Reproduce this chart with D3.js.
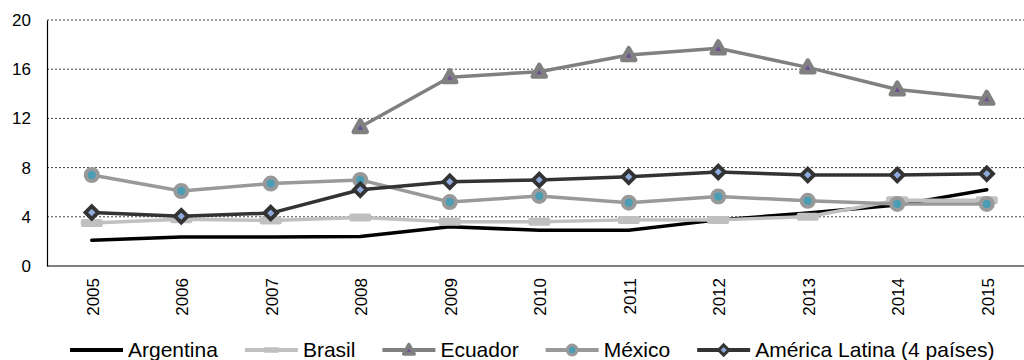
<!DOCTYPE html>
<html>
<head>
<meta charset="utf-8">
<script src="https://cdn.jsdelivr.net/npm/d3@7"></script>
<style>
  html, body { margin: 0; padding: 0; background: #fff; }
  svg { display: block; font-family: "Liberation Sans", Arial, sans-serif; }
</style>
</head>
<body>
<svg id="chart" width="1024" height="360"></svg>
<script>
// Years on the horizontal axis
const years = ["2005", "2006", "2007", "2008", "2009", "2010", "2011", "2012", "2013", "2014", "2015"];
const yTicks = [0, 4, 8, 12, 16, 20];

// Series values (null = no data)
const argentina = [2.1, 2.35, 2.35, 2.4, 3.2, 2.9, 2.9, 3.75, 4.3, 4.95, 6.2];
const brasil = [3.5, 3.8, 3.7, 3.95, 3.6, 3.6, 3.75, 3.75, 4.0, 5.35, 5.35];
const ecuador = [null, null, null, 11.3, 15.35, 15.8, 17.15, 17.7, 16.15, 14.35, 13.6];
const mexico = [7.4, 6.1, 6.7, 7.0, 5.2, 5.7, 5.15, 5.65, 5.3, 5.05, 5.05];
const americaLatina = [4.35, 4.05, 4.3, 6.2, 6.85, 7.0, 7.25, 7.65, 7.4, 7.4, 7.5];

const seriesNames = ["Argentina", "Brasil", "Ecuador", "México", "América Latina (4 países)"];

const series = [
  { name: seriesNames[0], values: argentina, line: "#000000", marker: null },
  { name: seriesNames[1], values: brasil, line: "#c0c0c0", marker: "dash" },
  { name: seriesNames[2], values: ecuador, line: "#808080", marker: "triangle" },
  { name: seriesNames[3], values: mexico, line: "#999999", marker: "circle" },
  { name: seriesNames[4], values: americaLatina, line: "#333333", marker: "diamond" }
];

const svg = d3.select("#chart");
const plotLeft = 47, plotRight = 1024, plotTop = 20, plotBottom = 266;
const step = 89.5;

const x = d3.scalePoint().domain(years).range([plotLeft + step / 2, plotLeft + step / 2 + step * 10]);
const y = d3.scaleLinear().domain([0, 20]).range([plotBottom, plotTop]);

// Dotted horizontal gridlines
svg.append("g")
  .selectAll("line")
  .data(yTicks.filter(d => d > 0))
  .join("line")
  .attr("x1", plotLeft).attr("x2", plotRight)
  .attr("y1", d => y(d)).attr("y2", d => y(d))
  .attr("stroke", "#404040")
  .attr("stroke-width", 1)
  .attr("stroke-dasharray", "2,2");

// Y axis
const yAxis = svg.append("g")
  .attr("transform", `translate(${plotLeft},0)`)
  .call(d3.axisLeft(y).tickValues(yTicks).tickSize(0).tickPadding(16));
yAxis.select(".domain").attr("stroke", "#000").attr("stroke-width", 1.2);
yAxis.selectAll("text").attr("font-size", 17).attr("fill", "#000")
  .attr("font-family", "'Liberation Sans', Arial, sans-serif");

// X axis baseline
svg.append("line")
  .attr("x1", plotLeft).attr("x2", plotRight)
  .attr("y1", y(0)).attr("y2", y(0))
  .attr("stroke", "#000").attr("stroke-width", 1.2);

// Rotated year labels
svg.append("g")
  .selectAll("text")
  .data(years)
  .join("text")
  .attr("transform", d => `translate(${x(d) + 1},${plotBottom + 12}) rotate(-90)`)
  .attr("text-anchor", "end")
  .attr("dy", "0.35em")
  .attr("font-size", 17)
  .attr("fill", "#000")
  .text(d => d);

// Marker drawing
function drawMarker(g, type, cx, cy) {
  if (type === "dash") {
    g.append("rect")
      .attr("x", cx - 11).attr("y", cy - 4)
      .attr("width", 22).attr("height", 8)
      .attr("rx", 2)
      .attr("fill", "#c0c0c0");
  } else if (type === "triangle") {
    const s = 6.5;
    g.append("path")
      .attr("d", `M${cx},${cy - s * 1.05}L${cx + s},${cy + s * 0.75}L${cx - s},${cy + s * 0.75}Z`)
      .attr("fill", "#6a4f95")
      .attr("stroke", "#808080")
      .attr("stroke-width", 4.5)
      .attr("stroke-linejoin", "round");
  } else if (type === "circle") {
    g.append("circle")
      .attr("cx", cx).attr("cy", cy).attr("r", 6)
      .attr("fill", "#4a9db5")
      .attr("stroke", "#999999")
      .attr("stroke-width", 4);
  } else if (type === "diamond") {
    const s = 6.3;
    g.append("path")
      .attr("d", `M${cx},${cy - s}L${cx + s},${cy}L${cx},${cy + s}L${cx - s},${cy}Z`)
      .attr("fill", "#8ea9db")
      .attr("stroke", "#333333")
      .attr("stroke-width", 3.8)
      .attr("stroke-linejoin", "miter");
  }
}

const line = d3.line()
  .defined(d => d.v !== null)
  .x(d => x(d.year))
  .y(d => y(d.v));

series.forEach(s => {
  const pts = years.map((yr, i) => ({ year: yr, v: s.values[i] }));
  const g = svg.append("g");
  g.append("path")
    .datum(pts)
    .attr("d", line)
    .attr("fill", "none")
    .attr("stroke", s.line)
    .attr("stroke-width", 3.5)
    .attr("stroke-linejoin", "round")
    .attr("stroke-linecap", "round");
  if (s.marker) {
    pts.filter(p => p.v !== null).forEach(p => drawMarker(g, s.marker, x(p.year), y(p.v)));
  }
});

// Legend
const legend = svg.append("g");
let lx = 70;
const ly = 350;
series.forEach(s => {
  const g = legend.append("g");
  g.append("line")
    .attr("x1", lx).attr("x2", lx + 53)
    .attr("y1", ly).attr("y2", ly)
    .attr("stroke", s.line).attr("stroke-width", 3.8);
  if (s.marker) {
    const cx = lx + 26.5;
    const mg = g.append("g");
    drawMarker(mg, s.marker, cx, ly);
    const k = s.marker === "dash" ? 0.7 : 0.8;
    mg.attr("transform", `translate(${cx},${ly}) scale(${k}) translate(${-cx},${-ly})`);
  }
  const t = g.append("text")
    .attr("x", lx + 58).attr("y", ly)
    .attr("dy", "0.35em")
    .attr("font-size", 21)
    .attr("fill", "#000")
    .text(s.name);
  lx += 58 + t.node().getComputedTextLength() + 27;
});
</script>
</body>
</html>
